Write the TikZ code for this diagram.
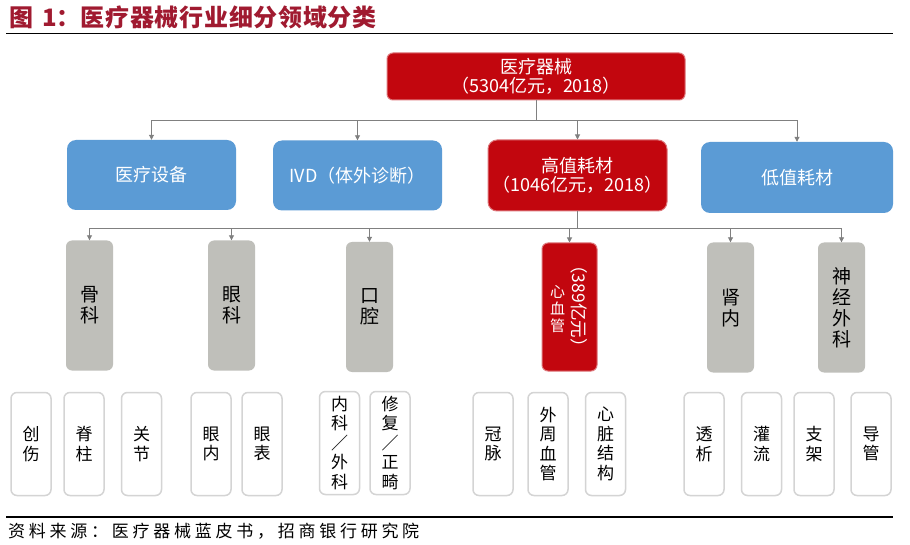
\documentclass[tikz,border=0pt]{standalone}
\usepackage{fontspec}
\setmainfont{Noto Sans CJK SC}
\usetikzlibrary{arrows.meta}
\definecolor{tred}{RGB}{160,26,48}
\definecolor{bred}{RGB}{194,6,14}
\definecolor{bblue}{RGB}{91,155,213}
\definecolor{bgray}{RGB}{191,191,186}
\definecolor{lgray}{RGB}{212,212,212}
\definecolor{cline}{RGB}{128,128,128}
\begin{document}
\begin{tikzpicture}[x=1pt,y=-1pt,
 redbox/.style={draw=bred!55!white, line width=1pt, fill=bred, rounded corners=6pt, text=white, align=center, font=\fontsize{18}{19.5}\selectfont, inner sep=0pt},
 bluebox/.style={fill=bblue, rounded corners=9pt, text=white, font=\fontsize{18}{20}\selectfont, inner sep=0pt, minimum height=70},
 graybox/.style={fill=bgray, rounded corners=6pt, align=center, font=\fontsize{19}{21}\selectfont, inner sep=0pt, minimum width=47, minimum height=130},
 leafbox/.style={draw=lgray, line width=1.5pt, fill=white, rounded corners=6pt, align=center, font=\fontsize{17}{19.5}\selectfont, inner sep=0pt, minimum width=40, minimum height=103},
 link/.style={draw=cline, line width=0.9pt},
 arr/.style={link, -{Triangle[width=5pt,length=5pt]}},
 rulestyle/.style={line width=1.6pt, black}
]
\useasboundingbox (0,0) rectangle (910,545);
\fill[white] (0,0) rectangle (910,545);

% title and rules
\node[anchor=west, text=tred, font=\fontsize{24}{26}\selectfont\bfseries, inner sep=0pt] (title) at (9,17.5) {图\hspace{9pt}1：\addfontfeatures{LetterSpace=3}医疗器械行业细分领域分类};
\coordinate (r1a) at (6,33.5);
\coordinate (r1b) at (893,33.5);
\draw[rulestyle] (r1a) -- (r1b);
\coordinate (r2a) at (6,517);
\coordinate (r2b) at (893,517);
\draw[rulestyle] (r2a) -- (r2b);
\node[anchor=west, font=\fontsize{17}{18}\selectfont\addfontfeatures{LetterSpace=22}, inner sep=0pt] (src) at (8,531) {资料来源：医疗器械蓝皮书，招商银行研究院};

% level 1
\node[redbox, minimum width=298, minimum height=47] (top) at (536,76.5) {医疗器械\\（5304亿元，2018）};

% level 2
\node[bluebox, minimum width=169] (b1) at (151.5,175) {医疗设备};
\node[bluebox, minimum width=169] (b2) at (357.5,175.5) {IVD（体外诊断）};
\node[redbox, minimum width=179, minimum height=71, rounded corners=9pt] (b3) at (577.5,175.5) {高值耗材\\（1046亿元，2018）};
\node[bluebox, minimum width=192, minimum height=71] (b4) at (797,177.5) {低值耗材};

% level 3
\node[graybox] (c1) at (89.5,305.5) {骨\\科};
\node[graybox] (c2) at (231.5,305.5) {眼\\科};
\node[graybox] (c3) at (369.5,307) {口\\腔};
\node[redbox, minimum width=55, minimum height=128] (c4) at (569.5,307) {};
\node[text=white, align=center, font=\fontsize{15}{17}\selectfont, inner sep=0pt] (c4a) at (557.5,309) {心\\血\\管};
\node[rotate=-90, text=white, font=\fontsize{17.5}{19}\selectfont, inner sep=0pt] (c4b) at (579,306) {（389亿元）};
\node[graybox] (c5) at (730.5,307.5) {肾\\内};
\node[graybox] (c6) at (841.5,307.5) {神\\经\\外\\科};

% level 4
\node[leafbox] (d1) at (31,444) {创\\伤};
\node[leafbox] (d2) at (84,444) {脊\\柱};
\node[leafbox] (d3) at (141.5,444) {关\\节};
\node[leafbox] (d4) at (211,444) {眼\\内};
\node[leafbox] (d5) at (262,444) {眼\\表};
\node[leafbox] (d6) at (339.5,443) {内\\科\\／\\外\\科};
\node[leafbox] (d7) at (390,443) {修\\复\\／\\正\\畸};
\node[leafbox] (d8) at (493,444) {冠\\脉};
\node[leafbox] (d9) at (548,444) {外\\周\\血\\管};
\node[leafbox] (d10) at (605.5,444) {心\\脏\\结\\构};
\node[leafbox] (d11) at (704,444) {透\\析};
\node[leafbox] (d12) at (761.5,444) {灌\\流};
\node[leafbox] (d13) at (814,444) {支\\架};
\node[leafbox] (d14) at (871,444) {导\\管};

% connectors
\coordinate (j1) at (536,120);
\draw[link] (top.south) -- (j1);
\foreach \n in {b1,b2,b3,b4} \draw[arr] (j1) -| (\n.north);
\coordinate (j2) at (577.5,228);
\draw[link] (b3.south) -- (j2);
\foreach \n in {c1,c2,c3,c4,c5,c6} \draw[arr] (j2) -| (\n.north);
\end{tikzpicture}
\end{document}
